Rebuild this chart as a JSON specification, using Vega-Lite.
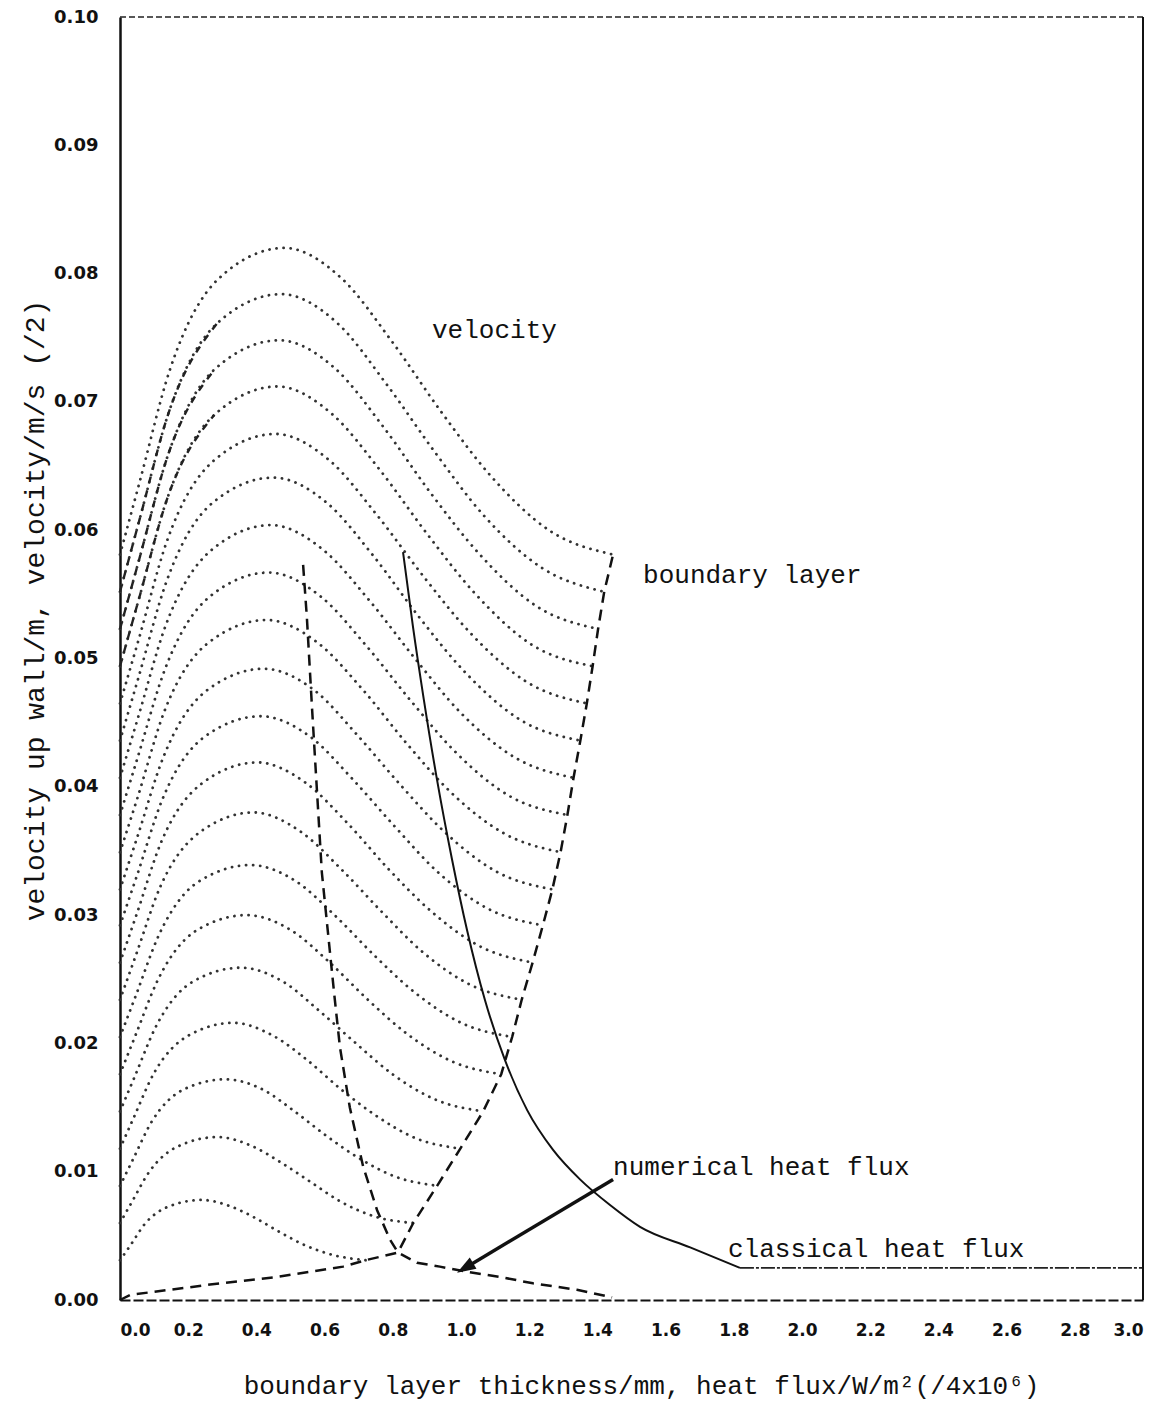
{
  "$schema": "https://vega.github.io/schema/vega-lite/v6.json",
  "width": 1023,
  "height": 1283,
  "autosize": {"type": "none"},
  "padding": {"left": 120, "top": 17, "right": 31, "bottom": 104},
  "background": "white",
  "config": {
    "view": {"stroke": null},
    "axis": {"grid": false, "labelColor": "#111", "titleColor": "#111", "domainColor": "#111"}
  },
  "datasets": {
    "profiles": [
      {"p":0,"x":0,"y":0.0581},{"p":0,"x":0.058,"y":0.0638},{"p":0,"x":0.145,"y":0.0724},{"p":0,"x":0.289,"y":0.0796},{"p":0,"x":0.482,"y":0.0820},{"p":0,"x":0.651,"y":0.0796},{"p":0,"x":0.795,"y":0.0748},{"p":0,"x":0.940,"y":0.0693},{"p":0,"x":1.085,"y":0.0643},{"p":0,"x":1.258,"y":0.0600},{"p":0,"x":1.446,"y":0.0581},
      {"p":1,"x":0,"y":0.0552},{"p":1,"x":0.057,"y":0.0608},{"p":1,"x":0.142,"y":0.0691},{"p":1,"x":0.284,"y":0.0761},{"p":1,"x":0.473,"y":0.0784},{"p":1,"x":0.639,"y":0.0761},{"p":1,"x":0.781,"y":0.0714},{"p":1,"x":0.923,"y":0.0661},{"p":1,"x":1.065,"y":0.0612},{"p":1,"x":1.235,"y":0.0571},{"p":1,"x":1.420,"y":0.0552},
      {"p":2,"x":0,"y":0.0523},{"p":2,"x":0.056,"y":0.0577},{"p":2,"x":0.140,"y":0.0658},{"p":2,"x":0.280,"y":0.0726},{"p":2,"x":0.467,"y":0.0748},{"p":2,"x":0.631,"y":0.0726},{"p":2,"x":0.771,"y":0.0681},{"p":2,"x":0.911,"y":0.0629},{"p":2,"x":1.052,"y":0.0582},{"p":2,"x":1.220,"y":0.0541},{"p":2,"x":1.402,"y":0.0523},
      {"p":3,"x":0,"y":0.0494},{"p":3,"x":0.055,"y":0.0546},{"p":3,"x":0.139,"y":0.0625},{"p":3,"x":0.277,"y":0.0690},{"p":3,"x":0.462,"y":0.0712},{"p":3,"x":0.624,"y":0.0690},{"p":3,"x":0.762,"y":0.0647},{"p":3,"x":0.901,"y":0.0597},{"p":3,"x":1.040,"y":0.0551},{"p":3,"x":1.206,"y":0.0511},{"p":3,"x":1.386,"y":0.0494},
      {"p":4,"x":0,"y":0.0465},{"p":4,"x":0.055,"y":0.0515},{"p":4,"x":0.137,"y":0.0591},{"p":4,"x":0.274,"y":0.0654},{"p":4,"x":0.456,"y":0.0675},{"p":4,"x":0.616,"y":0.0654},{"p":4,"x":0.753,"y":0.0612},{"p":4,"x":0.890,"y":0.0564},{"p":4,"x":1.027,"y":0.0520},{"p":4,"x":1.191,"y":0.0482},{"p":4,"x":1.369,"y":0.0465},
      {"p":5,"x":0,"y":0.0436},{"p":5,"x":0.054,"y":0.0485},{"p":5,"x":0.135,"y":0.0559},{"p":5,"x":0.270,"y":0.0621},{"p":5,"x":0.450,"y":0.0641},{"p":5,"x":0.608,"y":0.0621},{"p":5,"x":0.743,"y":0.0580},{"p":5,"x":0.878,"y":0.0532},{"p":5,"x":1.013,"y":0.0489},{"p":5,"x":1.175,"y":0.0452},{"p":5,"x":1.350,"y":0.0436},
      {"p":6,"x":0,"y":0.0407},{"p":6,"x":0.053,"y":0.0454},{"p":6,"x":0.133,"y":0.0525},{"p":6,"x":0.266,"y":0.0584},{"p":6,"x":0.443,"y":0.0604},{"p":6,"x":0.599,"y":0.0584},{"p":6,"x":0.732,"y":0.0545},{"p":6,"x":0.865,"y":0.0500},{"p":6,"x":0.998,"y":0.0458},{"p":6,"x":1.157,"y":0.0423},{"p":6,"x":1.330,"y":0.0407},
      {"p":7,"x":0,"y":0.0378},{"p":7,"x":0.052,"y":0.0423},{"p":7,"x":0.131,"y":0.0491},{"p":7,"x":0.262,"y":0.0548},{"p":7,"x":0.437,"y":0.0567},{"p":7,"x":0.590,"y":0.0548},{"p":7,"x":0.722,"y":0.0510},{"p":7,"x":0.853,"y":0.0467},{"p":7,"x":0.984,"y":0.0427},{"p":7,"x":1.141,"y":0.0393},{"p":7,"x":1.312,"y":0.0378},
      {"p":8,"x":0,"y":0.0349},{"p":8,"x":0.052,"y":0.0392},{"p":8,"x":0.129,"y":0.0458},{"p":8,"x":0.258,"y":0.0512},{"p":8,"x":0.430,"y":0.0530},{"p":8,"x":0.581,"y":0.0512},{"p":8,"x":0.711,"y":0.0476},{"p":8,"x":0.840,"y":0.0434},{"p":8,"x":0.969,"y":0.0396},{"p":8,"x":1.124,"y":0.0364},{"p":8,"x":1.292,"y":0.0349},
      {"p":9,"x":0,"y":0.0320},{"p":9,"x":0.051,"y":0.0361},{"p":9,"x":0.127,"y":0.0423},{"p":9,"x":0.254,"y":0.0475},{"p":9,"x":0.422,"y":0.0492},{"p":9,"x":0.571,"y":0.0475},{"p":9,"x":0.697,"y":0.0440},{"p":9,"x":0.824,"y":0.0401},{"p":9,"x":0.951,"y":0.0365},{"p":9,"x":1.103,"y":0.0334},{"p":9,"x":1.268,"y":0.0320},
      {"p":10,"x":0,"y":0.0292},{"p":10,"x":0.050,"y":0.0331},{"p":10,"x":0.124,"y":0.0390},{"p":10,"x":0.248,"y":0.0439},{"p":10,"x":0.413,"y":0.0455},{"p":10,"x":0.558,"y":0.0439},{"p":10,"x":0.682,"y":0.0406},{"p":10,"x":0.806,"y":0.0369},{"p":10,"x":0.930,"y":0.0334},{"p":10,"x":1.079,"y":0.0305},{"p":10,"x":1.240,"y":0.0292},
      {"p":11,"x":0,"y":0.0263},{"p":11,"x":0.048,"y":0.0300},{"p":11,"x":0.121,"y":0.0357},{"p":11,"x":0.242,"y":0.0403},{"p":11,"x":0.403,"y":0.0419},{"p":11,"x":0.545,"y":0.0403},{"p":11,"x":0.666,"y":0.0372},{"p":11,"x":0.787,"y":0.0336},{"p":11,"x":0.908,"y":0.0304},{"p":11,"x":1.053,"y":0.0276},{"p":11,"x":1.210,"y":0.0263},
      {"p":12,"x":0,"y":0.0234},{"p":12,"x":0.047,"y":0.0269},{"p":12,"x":0.118,"y":0.0322},{"p":12,"x":0.236,"y":0.0365},{"p":12,"x":0.392,"y":0.0380},{"p":12,"x":0.530,"y":0.0365},{"p":12,"x":0.648,"y":0.0336},{"p":12,"x":0.766,"y":0.0303},{"p":12,"x":0.884,"y":0.0272},{"p":12,"x":1.025,"y":0.0246},{"p":12,"x":1.178,"y":0.0234},
      {"p":13,"x":0,"y":0.0205},{"p":13,"x":0.046,"y":0.0237},{"p":13,"x":0.115,"y":0.0285},{"p":13,"x":0.230,"y":0.0326},{"p":13,"x":0.383,"y":0.0339},{"p":13,"x":0.518,"y":0.0326},{"p":13,"x":0.633,"y":0.0299},{"p":13,"x":0.748,"y":0.0268},{"p":13,"x":0.863,"y":0.0240},{"p":13,"x":1.001,"y":0.0216},{"p":13,"x":1.150,"y":0.0205},
      {"p":14,"x":0,"y":0.0176},{"p":14,"x":0.045,"y":0.0206},{"p":14,"x":0.112,"y":0.0250},{"p":14,"x":0.224,"y":0.0288},{"p":14,"x":0.372,"y":0.0300},{"p":14,"x":0.503,"y":0.0288},{"p":14,"x":0.615,"y":0.0263},{"p":14,"x":0.727,"y":0.0234},{"p":14,"x":0.839,"y":0.0208},{"p":14,"x":0.973,"y":0.0186},{"p":14,"x":1.118,"y":0.0176},
      {"p":15,"x":0,"y":0.0147},{"p":15,"x":0.043,"y":0.0174},{"p":15,"x":0.107,"y":0.0214},{"p":15,"x":0.213,"y":0.0248},{"p":15,"x":0.355,"y":0.0259},{"p":15,"x":0.479,"y":0.0248},{"p":15,"x":0.586,"y":0.0225},{"p":15,"x":0.692,"y":0.0200},{"p":15,"x":0.799,"y":0.0176},{"p":15,"x":0.927,"y":0.0156},{"p":15,"x":1.065,"y":0.0147},
      {"p":16,"x":0,"y":0.0118},{"p":16,"x":0.040,"y":0.0142},{"p":16,"x":0.100,"y":0.0177},{"p":16,"x":0.200,"y":0.0206},{"p":16,"x":0.332,"y":0.0216},{"p":16,"x":0.449,"y":0.0206},{"p":16,"x":0.549,"y":0.0187},{"p":16,"x":0.649,"y":0.0164},{"p":16,"x":0.749,"y":0.0144},{"p":16,"x":0.868,"y":0.0126},{"p":16,"x":0.998,"y":0.0118},
      {"p":17,"x":0,"y":0.0089},{"p":17,"x":0.037,"y":0.0109},{"p":17,"x":0.093,"y":0.0139},{"p":17,"x":0.186,"y":0.0164},{"p":17,"x":0.310,"y":0.0172},{"p":17,"x":0.419,"y":0.0164},{"p":17,"x":0.512,"y":0.0147},{"p":17,"x":0.605,"y":0.0128},{"p":17,"x":0.698,"y":0.0111},{"p":17,"x":0.809,"y":0.0096},{"p":17,"x":0.930,"y":0.0089},
      {"p":18,"x":0,"y":0.0060},{"p":18,"x":0.034,"y":0.0076},{"p":18,"x":0.086,"y":0.0100},{"p":18,"x":0.172,"y":0.0120},{"p":18,"x":0.286,"y":0.0127},{"p":18,"x":0.387,"y":0.0120},{"p":18,"x":0.473,"y":0.0107},{"p":18,"x":0.559,"y":0.0092},{"p":18,"x":0.645,"y":0.0077},{"p":18,"x":0.748,"y":0.0065},{"p":18,"x":0.860,"y":0.0060},
      {"p":19,"x":0,"y":0.0031},{"p":19,"x":0.029,"y":0.0042},{"p":19,"x":0.072,"y":0.0059},{"p":19,"x":0.144,"y":0.0073},{"p":19,"x":0.240,"y":0.0078},{"p":19,"x":0.324,"y":0.0073},{"p":19,"x":0.396,"y":0.0064},{"p":19,"x":0.468,"y":0.0053},{"p":19,"x":0.540,"y":0.0043},{"p":19,"x":0.626,"y":0.0035},{"p":19,"x":0.720,"y":0.0031}
    ],
    "profileDashes": [
      {"p":1,"x":0,"y":0.0552},{"p":1,"x":0.057,"y":0.0608},{"p":1,"x":0.142,"y":0.0691},{"p":1,"x":0.284,"y":0.0761},
      {"p":2,"x":0,"y":0.0523},{"p":2,"x":0.056,"y":0.0577},{"p":2,"x":0.140,"y":0.0658},{"p":2,"x":0.280,"y":0.0726},
      {"p":3,"x":0,"y":0.0494},{"p":3,"x":0.055,"y":0.0546},{"p":3,"x":0.139,"y":0.0625},{"p":3,"x":0.277,"y":0.0690}
    ],
    "boundary": [
      {"x":0,"y":0},{"x":0.03,"y":0.0004},{"x":0.264,"y":0.0012},{"x":0.46,"y":0.0018},{"x":0.654,"y":0.0026},{"x":0.72,"y":0.0031},{"x":0.815,"y":0.0037},{"x":0.860,"y":0.0060},{"x":0.930,"y":0.0089},{"x":0.998,"y":0.0118},{"x":1.065,"y":0.0147},{"x":1.118,"y":0.0176},{"x":1.150,"y":0.0205},{"x":1.178,"y":0.0234},{"x":1.210,"y":0.0263},{"x":1.240,"y":0.0292},{"x":1.268,"y":0.0320},{"x":1.292,"y":0.0349},{"x":1.312,"y":0.0378},{"x":1.330,"y":0.0407},{"x":1.350,"y":0.0436},{"x":1.369,"y":0.0465},{"x":1.386,"y":0.0494},{"x":1.402,"y":0.0523},{"x":1.420,"y":0.0552},{"x":1.446,"y":0.0581}
    ],
    "numerical": [
      {"x":0.537,"y":0.0573},{"x":0.548,"y":0.0532},{"x":0.563,"y":0.0462},{"x":0.578,"y":0.0395},{"x":0.592,"y":0.0333},{"x":0.628,"y":0.0239},{"x":0.645,"y":0.0197},{"x":0.674,"y":0.0150},{"x":0.713,"y":0.0104},{"x":0.754,"y":0.0070},{"x":0.792,"y":0.0047},{"x":0.815,"y":0.0037},{"x":0.871,"y":0.0029},{"x":0.938,"y":0.0026},{"x":1.018,"y":0.0022},{"x":1.114,"y":0.0018},{"x":1.211,"y":0.0013},{"x":1.340,"y":0.0008},{"x":1.443,"y":0.0002}
    ],
    "classical": [
      {"x":0.830,"y":0.0583},{"x":0.859,"y":0.0525},{"x":0.891,"y":0.0468},{"x":0.930,"y":0.0405},{"x":0.974,"y":0.0343},{"x":1.018,"y":0.0288},{"x":1.070,"y":0.0234},{"x":1.129,"y":0.0187},{"x":1.194,"y":0.0148},{"x":1.270,"y":0.0117},{"x":1.349,"y":0.0094},{"x":1.437,"y":0.0074},{"x":1.525,"y":0.0057},{"x":1.672,"y":0.0041},{"x":1.818,"y":0.0025}
    ],
    "classicalTail": [
      {"x":1.818,"y":0.0025},{"x":3.0,"y":0.0025}
    ],
    "arrow": [
      {"x":1.446,"y":0.0094},{"x":1.012,"y":0.0025}
    ],
    "arrowTip": [
      {"x":1.012,"y":0.0025}
    ],
    "frame": [
      {"x":3.0,"y":0.1}
    ],
    "labels": [
      {"label":"velocity","x":0.915,"y":0.0756},
      {"label":"boundary layer","x":1.534,"y":0.0565},
      {"label":"numerical heat flux","x":1.446,"y":0.0104},
      {"label":"classical heat flux","x":1.783,"y":0.0040}
    ]
  },
  "layer": [
    {
      "data": {"name": "profiles"},
      "mark": {"type": "line", "interpolate": "monotone", "strokeDash": [0.1, 7], "strokeCap": "round", "strokeWidth": 2.8, "color": "#333"},
      "encoding": {
        "x": {
          "field": "x", "type": "quantitative",
          "scale": {"domain": [0, 3], "nice": false, "zero": false},
          "axis": {
            "values": [0,0.2,0.4,0.6,0.8,1.0,1.2,1.4,1.6,1.8,2.0,2.2,2.4,2.6,2.8,3.0],
            "format": ".1f",
            "ticks": false,
            "domainWidth": 2,
            "domainDash": [10, 3],
            "labelFont": "DejaVu Sans", "labelFontWeight": "bold", "labelFontSize": 17, "labelPadding": 22,
            "title": "boundary layer thickness/mm, heat flux/W/m²(/4x10⁶)",
            "titleFont": "Liberation Mono", "titleFontWeight": "normal", "titleFontSize": 26,
            "titleX": 521, "titleY": 85, "titleAlign": "center", "titleBaseline": "middle"
          }
        },
        "y": {
          "field": "y", "type": "quantitative",
          "scale": {"domain": [0, 0.1], "nice": false},
          "axis": {
            "values": [0,0.01,0.02,0.03,0.04,0.05,0.06,0.07,0.08,0.09,0.1],
            "format": ".2f",
            "ticks": false,
            "domainWidth": 2.5,
            "labelFont": "DejaVu Sans", "labelFontWeight": "bold", "labelFontSize": 18, "labelPadding": 22,
            "title": "velocity up wall/m, velocity/m/s (/2)",
            "titleFont": "Liberation Mono", "titleFontWeight": "normal", "titleFontSize": 28,
            "titleX": -85, "titleY": 593, "titleAngle": -90, "titleAlign": "center", "titleBaseline": "middle"
          }
        },
        "detail": {"field": "p", "type": "nominal"}
      }
    },
    {
      "data": {"name": "profileDashes"},
      "mark": {"type": "line", "interpolate": "monotone", "strokeDash": [7, 7], "strokeWidth": 2.4, "color": "#222"},
      "encoding": {"x": {"field": "x", "type": "quantitative"}, "y": {"field": "y", "type": "quantitative"}, "detail": {"field": "p", "type": "nominal"}}
    },
    {
      "data": {"name": "boundary"},
      "mark": {"type": "line", "strokeDash": [11, 7], "strokeWidth": 2.5, "color": "#111"},
      "encoding": {"x": {"field": "x", "type": "quantitative"}, "y": {"field": "y", "type": "quantitative"}}
    },
    {
      "data": {"name": "numerical"},
      "mark": {"type": "line", "strokeDash": [11, 7], "strokeWidth": 2.5, "color": "#111"},
      "encoding": {"x": {"field": "x", "type": "quantitative"}, "y": {"field": "y", "type": "quantitative"}}
    },
    {
      "data": {"name": "classical"},
      "mark": {"type": "line", "interpolate": "monotone", "strokeWidth": 2, "color": "#111"},
      "encoding": {"x": {"field": "x", "type": "quantitative"}, "y": {"field": "y", "type": "quantitative"}}
    },
    {
      "data": {"name": "classicalTail"},
      "mark": {"type": "line", "strokeDash": [14, 2, 3, 2], "strokeWidth": 1.8, "color": "#222"},
      "encoding": {"x": {"field": "x", "type": "quantitative"}, "y": {"field": "y", "type": "quantitative"}}
    },
    {
      "data": {"name": "arrow"},
      "mark": {"type": "line", "strokeWidth": 3.5, "color": "#111"},
      "encoding": {"x": {"field": "x", "type": "quantitative"}, "y": {"field": "y", "type": "quantitative"}}
    },
    {
      "data": {"name": "arrowTip"},
      "mark": {"type": "point", "shape": "M1,0L-1,-0.7L-1,0.7Z", "size": 350, "angle": 149, "filled": true, "opacity": 1, "color": "#111"},
      "encoding": {"x": {"field": "x", "type": "quantitative"}, "y": {"field": "y", "type": "quantitative"}}
    },
    {
      "data": {"name": "frame"},
      "mark": {"type": "rule", "strokeDash": [6, 3], "strokeWidth": 1.5, "color": "#222"},
      "encoding": {"y": {"field": "y", "type": "quantitative"}}
    },
    {
      "data": {"name": "frame"},
      "mark": {"type": "rule", "strokeWidth": 2, "color": "#111"},
      "encoding": {"x": {"field": "x", "type": "quantitative"}}
    },
    {
      "data": {"name": "labels"},
      "mark": {"type": "text", "align": "left", "baseline": "middle", "font": "Liberation Mono", "fontSize": 26, "color": "#111"},
      "encoding": {
        "x": {"field": "x", "type": "quantitative"},
        "y": {"field": "y", "type": "quantitative"},
        "text": {"field": "label"}
      }
    }
  ]
}
